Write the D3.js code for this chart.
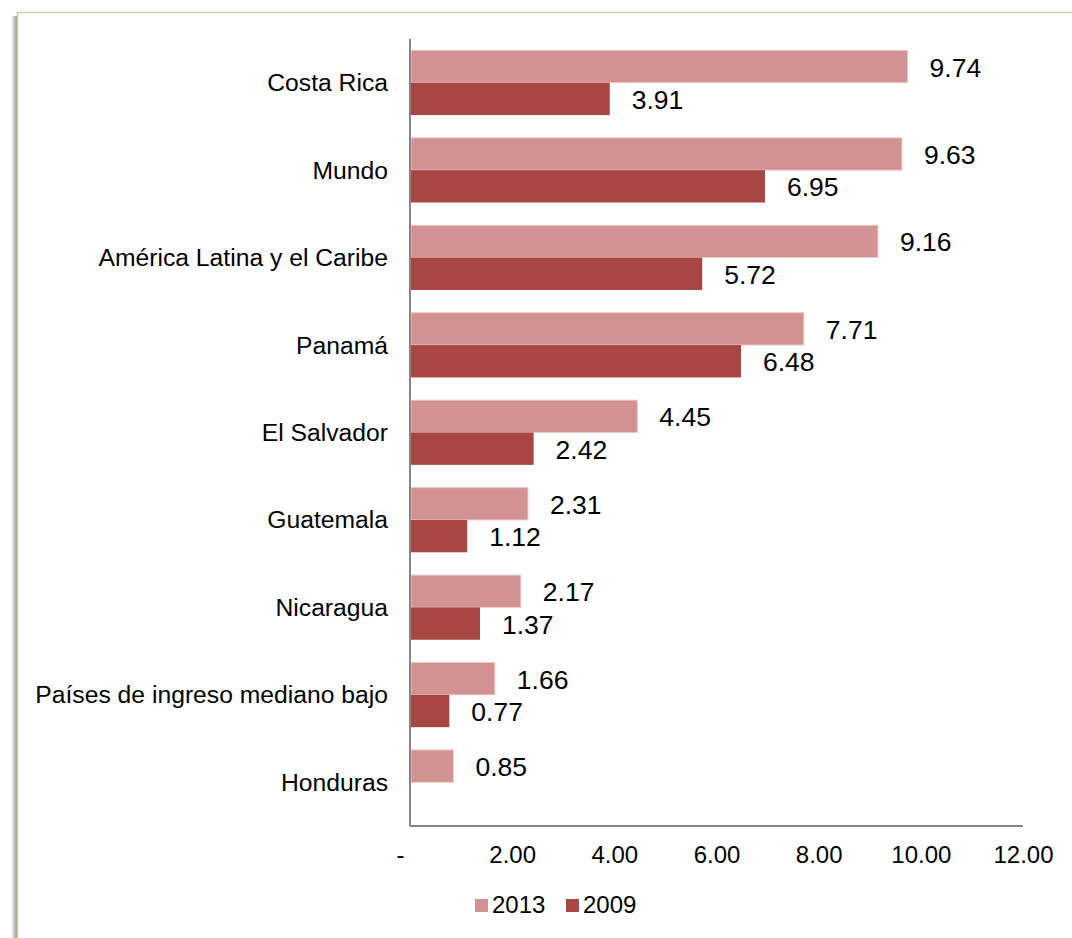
<!DOCTYPE html>
<html>
<head>
<meta charset="utf-8">
<script src="https://cdn.jsdelivr.net/npm/d3@7"></script>
<style>
  body { margin: 0; background: #fff; }
  svg text { font-family: "Liberation Sans", Arial, sans-serif; }
</style>
</head>
<body>
<div id="chart"></div>
<script>
var categories = ["Costa Rica", "Mundo", "América Latina y el Caribe", "Panamá", "El Salvador",
  "Guatemala", "Nicaragua", "Países de ingreso mediano bajo", "Honduras"];
var values2013 = [9.74, 9.63, 9.16, 7.71, 4.45, 2.31, 2.17, 1.66, 0.85];
var values2009 = [3.91, 6.95, 5.72, 6.48, 2.42, 1.12, 1.37, 0.77, null];
var seriesNames = ["2013", "2009"];
var seriesColors = ["#d39292", "#a84644"];
var tickValues = [0, 2, 4, 6, 8, 10, 12];

var svgWidth = 1072, svgHeight = 938;
var margin = {top: 39, left: 410, right: 49, bottom: 112};
var width = svgWidth - margin.left - margin.right;
var height = svgHeight - margin.top - margin.bottom;

var svg = d3.select("#chart").append("svg")
  .attr("width", svgWidth)
  .attr("height", svgHeight);

// frame with a soft shadow on the left
var defs = svg.append("defs");
var grad = defs.append("linearGradient").attr("id", "shadow");
grad.append("stop").attr("offset", "0%").attr("stop-color", "#fff");
grad.append("stop").attr("offset", "100%").attr("stop-color", "#9a9a9a");
svg.append("rect")
  .attr("x", 11).attr("y", 16).attr("width", 6).attr("height", svgHeight)
  .attr("fill", "url(#shadow)");
svg.append("rect")
  .attr("x", 17.5).attr("y", 12.5)
  .attr("width", svgWidth).attr("height", svgHeight)
  .attr("fill", "#fff")
  .attr("stroke", "#cfc9a6")
  .attr("stroke-width", 1.5);

var g = svg.append("g")
  .attr("transform", `translate(${margin.left}, ${margin.top})`);

var x = d3.scaleLinear().domain([0, 12]).range([0, width]);
var y = d3.scaleBand().domain(categories).range([0, height]).paddingInner(0.26).paddingOuter(0.13);
var ySub = d3.scaleBand().domain(seriesNames).range([0, y.bandwidth()]);

var rows = categories.map(function(c, i) {
  return {cat: c, vals: [values2013[i], values2009[i]]};
});

var groups = g.selectAll(".row")
  .data(rows)
  .enter().append("g")
  .attr("transform", d => `translate(0, ${y(d.cat)})`);

seriesNames.forEach(function(s, k) {
  groups.filter(d => d.vals[k] != null)
    .append("rect")
    .attr("x", 1)
    .attr("y", ySub(s))
    .attr("width", d => x(d.vals[k]) - 1)
    .attr("height", ySub.bandwidth())
    .attr("fill", seriesColors[k])
    .attr("stroke", k == 0 ? "#ecc9c9" : "none")
    .attr("stroke-width", 1);

  groups.filter(d => d.vals[k] != null)
    .append("text")
    .attr("x", d => x(d.vals[k]) + 22)
    .attr("y", ySub(s) + ySub.bandwidth() / 2 + 10)
    .attr("font-size", "26.5px")
    .attr("fill", "#000")
    .text(d => d.vals[k].toFixed(2));
});

// category labels
g.selectAll(".cat")
  .data(categories)
  .enter().append("text")
  .attr("x", -22)
  .attr("y", d => y(d) + y.bandwidth() / 2 + 8.5)
  .attr("text-anchor", "end")
  .attr("font-size", "24.7px")
  .attr("fill", "#000")
  .text(d => d);

// axes
g.append("line")
  .attr("x1", 0).attr("x2", 0).attr("y1", 0).attr("y2", height)
  .attr("stroke", "#868686").attr("stroke-width", 2);
g.append("line")
  .attr("x1", 0).attr("x2", width).attr("y1", height).attr("y2", height)
  .attr("stroke", "#868686").attr("stroke-width", 2);

var xAxis = d3.axisBottom(x)
  .tickValues(tickValues)
  .tickSize(0)
  .tickPadding(20)
  .tickFormat(d => d == 0 ? "-" : d.toFixed(2));
var axG = g.append("g")
  .attr("transform", `translate(0, ${height})`)
  .call(xAxis);
axG.select(".domain").remove();
axG.selectAll("text")
  .attr("font-size", "24px")
  .attr("fill", "#000")
  .attr("font-family", "Liberation Sans, Arial, sans-serif")
  .attr("dx", d => d == 0 ? -10 : 0);

// legend
var legend = svg.append("g").attr("transform", "translate(475, 899)");
var legX = [0, 91];
seriesNames.forEach(function(s, k) {
  legend.append("rect")
    .attr("x", legX[k]).attr("y", 0)
    .attr("width", 13).attr("height", 13)
    .attr("fill", seriesColors[k]);
  legend.append("text")
    .attr("x", legX[k] + 17).attr("y", 14)
    .attr("font-size", "24px")
    .attr("fill", "#000")
    .text(s);
});
</script>
</body>
</html>
